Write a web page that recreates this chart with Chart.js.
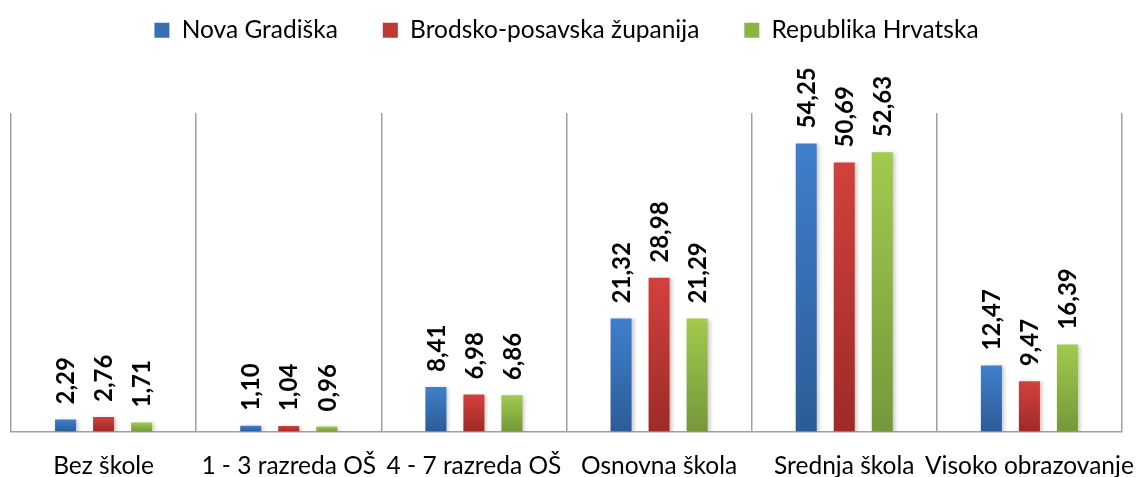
<!DOCTYPE html>
<html>
<head>
<meta charset="utf-8">
<script src="https://cdn.jsdelivr.net/npm/chart.js@4.4.1/dist/chart.umd.min.js"></script>
<style>
html,body{margin:0;padding:0;background:#fff;}
#wrap{width:1137px;height:477px;position:relative;}
</style>
</head>
<body>
<div id="wrap"><canvas id="c" width="1137" height="477"></canvas></div>
<script>
const categories = ['Bez škole', '1 - 3 razreda OŠ', '4 - 7 razreda OŠ', 'Osnovna škola', 'Srednja škola', 'Visoko obrazovanje'];
const seriesNames = ['Nova Gradiška', 'Brodsko-posavska županija', 'Republika Hrvatska'];
const novaGradiska = [2.29, 1.10, 8.41, 21.32, 54.25, 12.47];
const brodskoPosavska = [2.76, 1.04, 6.98, 28.98, 50.69, 9.47];
const republikaHrvatska = [1.71, 0.96, 6.86, 21.29, 52.63, 16.39];

const FONT = 'Lato, "Open Sans", sans-serif';
const palette = [
  {top: '#3F7FCC', bottom: '#2C5C97', solid: '#3870B8'},
  {top: '#D2413D', bottom: '#9E2A27', solid: '#C03733'},
  {top: '#A0CB4D', bottom: '#76973A', solid: '#8DB443'}
];

function gradFor(idx) {
  return function(ctx) {
    const chart = ctx.chart;
    const ca = chart.chartArea;
    if (!ca || ctx.type !== 'data') return palette[idx].solid;
    const yScale = chart.scales.y;
    const topPx = yScale.getPixelForValue(ctx.parsed.y);
    const basePx = yScale.getPixelForValue(0);
    const g = chart.ctx.createLinearGradient(0, topPx, 0, basePx + 0.01);
    g.addColorStop(0, palette[idx].top);
    g.addColorStop(1, palette[idx].bottom);
    return g;
  };
}

const barShadow = {
  id: 'barShadow',
  beforeDatasetsDraw(chart) {
    const ctx = chart.ctx;
    ctx.save();
    ctx.shadowColor = 'rgba(0,0,0,0.22)';
    ctx.shadowBlur = 4;
    ctx.shadowOffsetX = 2;
    ctx.shadowOffsetY = 1;
  },
  afterDatasetsDraw(chart) {
    chart.ctx.restore();
  }
};

const valueLabels = {
  id: 'valueLabels',
  afterDatasetsDraw(chart) {
    const ctx = chart.ctx;
    ctx.save();
    ctx.shadowColor = 'transparent';
    ctx.font = 'bold 24px ' + FONT;
    ctx.fillStyle = '#000';
    ctx.textAlign = 'left';
    ctx.textBaseline = 'middle';
    chart.data.datasets.forEach((ds, di) => {
      const meta = chart.getDatasetMeta(di);
      meta.data.forEach((el, i) => {
        const txt = ds.data[i].toFixed(2).replace('.', ',');
        ctx.save();
        ctx.translate(el.x, el.y - 15);
        ctx.rotate(-Math.PI / 2);
        ctx.fillText(txt, 0, 1);
        ctx.restore();
      });
    });
    ctx.restore();
  }
};

const legendFit = {
  id: 'legendFit',
  afterInit(chart) {
    const lg = chart.legend;
    if (!lg) return;
    const orig = lg.fit.bind(lg);
    lg.fit = function() {
      orig();
      this.height = 113 + 27;
    };
  }
};

new Chart(document.getElementById('c'), {
  type: 'bar',
  data: {
    labels: categories,
    datasets: [
      {label: seriesNames[0], data: novaGradiska, backgroundColor: gradFor(0)},
      {label: seriesNames[1], data: brodskoPosavska, backgroundColor: gradFor(1)},
      {label: seriesNames[2], data: republikaHrvatska, backgroundColor: gradFor(2)}
    ]
  },
  options: {
    responsive: false,
    animation: false,
    devicePixelRatio: 1,
    layout: {padding: {left: 11, right: 15, top: -27, bottom: -24}},
    datasets: {bar: {categoryPercentage: 0.616, barPercentage: 0.553}},
    plugins: {
      legend: {
        display: true,
        position: 'top',
        labels: {
          font: {family: FONT, size: 24.5},
          color: '#000',
          boxWidth: 15,
          boxHeight: 15,
          padding: 45,
          generateLabels(chart) {
            return chart.data.datasets.map((ds, i) => ({
              text: ds.label,
              fillStyle: palette[i].solid,
              strokeStyle: palette[i].solid,
              lineWidth: 0,
              hidden: false,
              datasetIndex: i
            }));
          }
        }
      },
      tooltip: {enabled: false}
    },
    scales: {
      x: {
        grid: {display: true, offset: true, color: '#A0A0A0', lineWidth: 1.5, drawTicks: false},
        border: {display: true, color: '#A0A0A0', width: 1.5},
        ticks: {font: {family: FONT, size: 24.5}, color: '#000', padding: 20, maxRotation: 0, autoSkip: false},
        afterFit(scale) { scale.paddingLeft = 0; scale.paddingRight = 0; }
      },
      y: {
        display: false,
        min: 0,
        max: 60
      }
    }
  },
  plugins: [barShadow, valueLabels, legendFit]
});
</script>
</body>
</html>
